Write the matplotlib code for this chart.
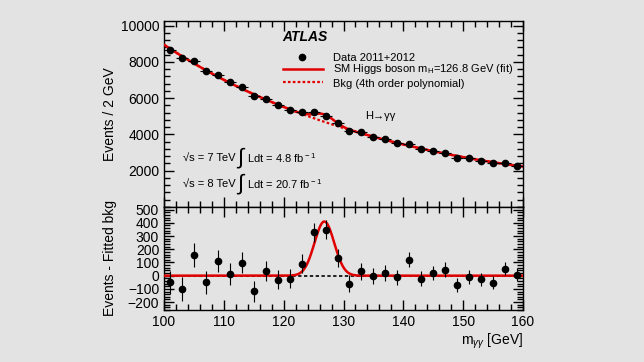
import matplotlib
matplotlib.use("Agg")
import matplotlib.pyplot as plt
import numpy as np
from matplotlib.ticker import MultipleLocator

plt.rcParams.update({
    'font.family': ['Liberation Sans', 'DejaVu Sans'],
    'font.size': 9.5,
    'mathtext.fontset': 'custom',
    'mathtext.rm': 'Liberation Sans',
    'mathtext.it': 'Liberation Sans:italic',
})

BG = '#e3e3e3'
RED = '#e00000'

# ------------------------------------------------------------
# data
# ------------------------------------------------------------
mass = np.arange(101, 160, 2)
events = [8670, 8215, 8068, 7482, 7285, 6880, 6607, 6097, 5950, 5605,
          5370, 5222, 5222, 5003, 4603, 4182, 4110, 3853, 3727, 3525,
          3487, 3196, 3087, 2977, 2720, 2687, 2556, 2414, 2414, 2282]
resid = [-51, -101, 157, -51, 108, 13, 98, -119, 33, -30,
         -23, 91, 328, 348, 134, -61, 33, -2, 20, -13,
         121, -23, 20, 45, -73, -10, -28, -53, 53, 8]
resid_err = [90, 88, 88, 85, 84, 82, 80, 78, 76, 74,
             73, 72, 71, 70, 68, 65, 64, 62, 61, 59,
             58, 57, 56, 55, 53, 52, 51, 50, 49, 48]

m_higgs = 126.8
sig_amp = 410
sig_width = 1.65

# background fit: 4th order polynomial through data - residual
bkg_pts = np.array(events) - np.array(resid)
coef = np.polyfit(mass, bkg_pts, 4)
xs = np.linspace(100, 160, 600)
bkg = np.polyval(coef, xs)
sig = sig_amp * np.exp(-0.5 * ((xs - m_higgs) / sig_width) ** 2)

fig = plt.figure(figsize=(6.44, 3.62), dpi=100, facecolor=BG)
ax1 = fig.add_axes([164 / 644, 1 - 207 / 362, 359 / 644, 186 / 362], facecolor=BG)
ax2 = fig.add_axes([164 / 644, 1 - 310 / 362, 359 / 644, 103 / 362], facecolor=BG,
                   sharex=ax1)

# top panel
ax1.plot(xs, bkg, color=RED, lw=1.6, ls=(0, (1.2, 1.0)), zorder=2)
ax1.plot(xs, bkg + sig, color=RED, lw=1.8, zorder=3)
ax1.errorbar(mass, events, xerr=1, yerr=np.sqrt(events), fmt='o', color='black',
             ms=4.5, elinewidth=0.8, capsize=0, zorder=4)
ax1.set_ylim(0, 10250)
ax1.set_ylabel('Events / 2 GeV', fontsize=10)
ax1.yaxis.set_major_locator(MultipleLocator(2000))
ax1.yaxis.set_minor_locator(MultipleLocator(400))
ax1.set_yticks([2000, 4000, 6000, 8000, 10000])
plt.setp(ax1.get_xticklabels(), visible=False)

# legend block, drawn by hand like the ROOT original
tr = ax1.transAxes
ax1.text(0.329, 0.914, 'ATLAS', transform=tr, fontsize=10,
         fontweight='bold', style='italic', va='center')
ax1.plot([0.384], [0.806], 'o', color='black', ms=4.5, transform=tr)
ax1.plot([0.331, 0.443], [0.742, 0.742], color=RED, lw=1.8, transform=tr)
ax1.plot([0.331, 0.443], [0.672, 0.672], color=RED, lw=1.6, ls=(0, (1.2, 1.0)),
         transform=tr)
ax1.text(0.47, 0.80, 'Data 2011+2012', transform=tr, fontsize=8, va='center')
ax1.text(0.47, 0.742, r'SM Higgs boson m$_{\rm H}$=126.8 GeV (fit)',
         transform=tr, fontsize=8, va='center')
ax1.text(0.47, 0.662, 'Bkg (4th order polynomial)', transform=tr,
         fontsize=8, va='center')
ax1.text(0.56, 0.489, 'H\u2192\u03b3\u03b3', transform=tr, fontsize=8, va='center')

for yy, energy, lumi in [(0.263, '7', '4.8'), (0.124, '8', '20.7')]:
    ax1.text(0.053, yy, '\u221as = %s TeV' % energy, transform=tr,
             fontsize=8, va='center')
    ax1.text(0.204, yy, '\u222b', transform=tr, fontsize=16, va='center')
    ax1.text(0.230, yy, r'Ldt = %s fb$^{\rm -1}$' % lumi, transform=tr,
             fontsize=8, va='center')

# bottom panel
ax2.axhline(0, color='black', lw=1.2, ls=(0, (2, 1.5)), zorder=2)
ax2.plot(xs, sig, color=RED, lw=1.8, zorder=3)
ax2.errorbar(mass, resid, yerr=resid_err, fmt='o', color='black', ms=4.5,
             elinewidth=0.8, capsize=0, zorder=4)
ax2.set_ylim(-260, 520)
ax2.set_xlim(100, 160)
ax2.set_yticks([-200, -100, 0, 100, 200, 300, 400, 500])
ax2.yaxis.set_minor_locator(MultipleLocator(20))
ax2.set_ylabel('Events - Fitted bkg', fontsize=10)
ax2.set_xlabel(r'm$_{\gamma\gamma}$ [GeV]', fontsize=10, loc='right', labelpad=2)
ax2.xaxis.set_major_locator(MultipleLocator(10))
ax2.xaxis.set_minor_locator(MultipleLocator(2))

for ax in (ax1, ax2):
    ax.tick_params(which='both', direction='in', top=True, right=True,
                   labelsize=10, width=1)
    ax.tick_params(which='major', length=7)
    ax.tick_params(which='minor', length=4)
    for sp in ax.spines.values():
        sp.set_linewidth(1)

ax1.yaxis.set_label_coords(-0.131, 0.5)
ax2.yaxis.set_label_coords(-0.131, 0.5)

fig.savefig('out.png', dpi=100, facecolor=BG)
